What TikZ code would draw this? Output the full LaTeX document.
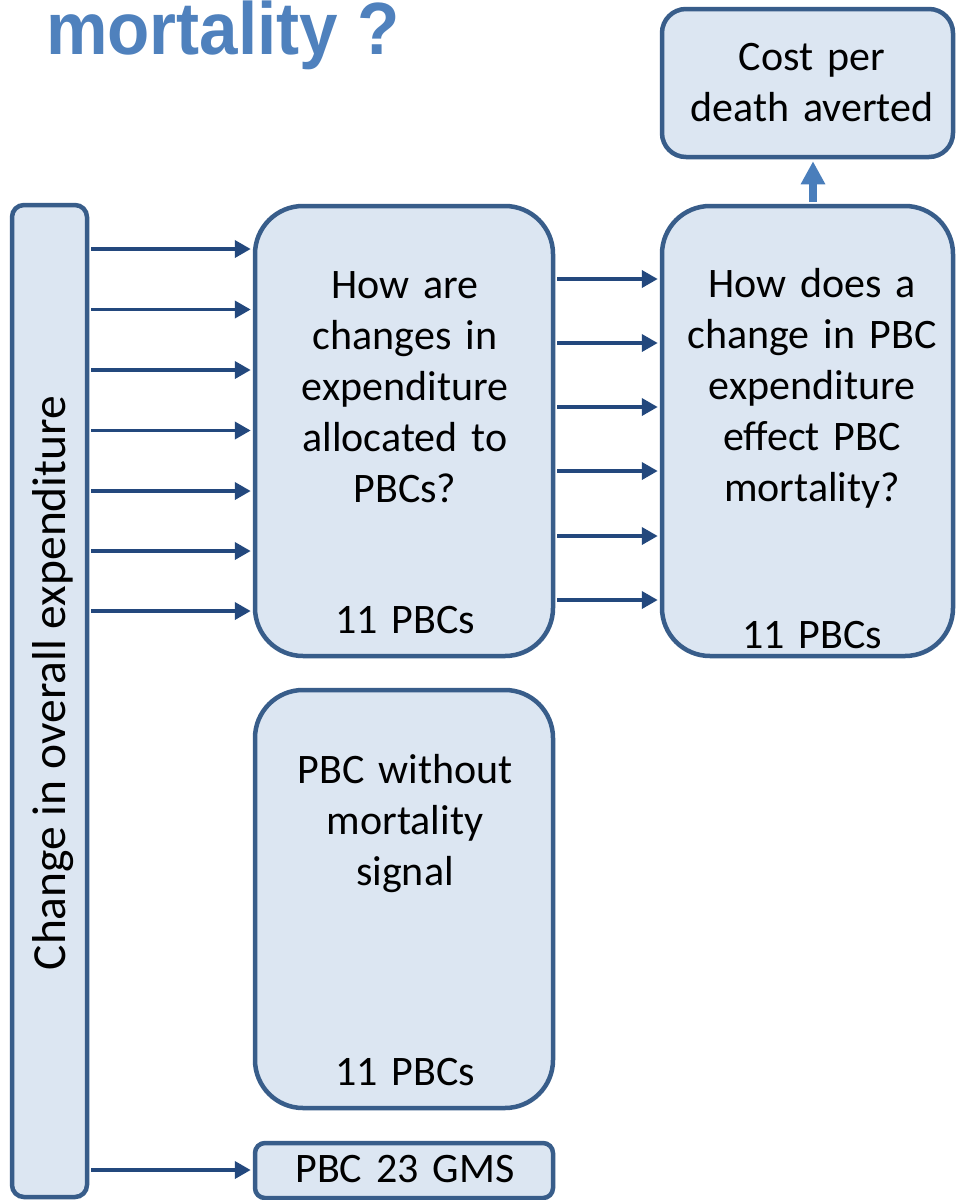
\documentclass[tikz,border=0pt]{standalone}
\usepackage{fontspec}
\setmainfont{Carlito}
\newfontfamily\titlefont{Liberation Sans}
\usetikzlibrary{arrows.meta}
\definecolor{boxline}{RGB}{56,93,138}
\definecolor{boxfill}{RGB}{220,230,242}
\definecolor{arrowcol}{RGB}{35,72,125}
\definecolor{upcol}{RGB}{74,126,187}
\definecolor{titlecol}{RGB}{79,129,189}
\begin{document}
\begin{tikzpicture}[x=1pt,y=-1pt,
  box/.style={draw=boxline, fill=boxfill, line width=4.5pt, inner sep=0pt, rectangle},
  lbl/.style={font=\fontsize{42}{51}\selectfont, text width=330pt, align=center, inner sep=0pt, anchor=base},
  conn/.style={draw=arrowcol, line width=3.8pt, shorten >=2pt, shorten <=2pt, -{Triangle[length=16pt,width=17pt]}},
  uparrow/.style={draw=upcol, line width=8pt, -{Triangle[length=23pt,width=23pt]}}
]
\useasboundingbox (0,0) rectangle (957,1200);
\clip (0,0) rectangle (957,1200);
\fill[white] (0,0) rectangle (957,1200);

% title (cut off at the top)
\node[anchor=base west, inner sep=0pt, text=titlecol, xscale=0.935, transform shape, font=\titlefont\bfseries\fontsize{74}{84}\selectfont] (title) at (46,54) {mortality ?};

% boxes
\node[box, rounded corners=12pt, minimum width=75pt, minimum height=992pt] (leftbox) at (49.5,701) {};
\node[box, rounded corners=48pt, minimum width=298pt, minimum height=450pt] (midbox) at (404,431) {};
\node[box, rounded corners=48pt, minimum width=291pt, minimum height=450pt] (rightbox) at (807.5,431) {};
\node[box, rounded corners=24pt, minimum width=291pt, minimum height=148pt] (costbox) at (807.5,83) {};
\node[box, rounded corners=48pt, minimum width=298pt, minimum height=418pt] (lowbox) at (404,899) {};
\node[box, rounded corners=10pt, minimum width=298pt, minimum height=55pt] (gmsbox) at (404,1170.5) {};

% texts
\node[inner sep=0pt, anchor=base, rotate=90, font=\fontsize{47.5}{57}\selectfont] (lefttext) at (65,683) {Change in overall expenditure};
\node[lbl] (midtext) at (405,298) {How are\\changes in\\expenditure\\allocated to\\PBCs?};
\node[lbl] (midcount) at (405,633) {11 PBCs};
\node[lbl] (righttext) at (812,297) {How does a\\change in PBC\\expenditure\\effect PBC\\mortality?};
\node[lbl] (rightcount) at (812,648) {11 PBCs};
\node[lbl] (costtext) at (812,70) {Cost per\\death averted};
\node[lbl] (lowtext) at (405,783) {PBC without\\mortality\\signal};
\node[lbl] (lowcount) at (405,1085) {11 PBCs};
\node[lbl] (gmstext) at (405,1182) {PBC 23 GMS};

% arrows from left box to middle box
\foreach \y [count=\i] in {249,309.5,370,430.5,491,551,611} {
  \coordinate (la\i) at (0,\y);
  \draw[conn] (leftbox.east |- la\i) -- (midbox.west |- la\i);
}
% arrow from left box to GMS box
\coordinate (lg) at (0,1170);
\draw[conn] (leftbox.east |- lg) -- (gmsbox.west |- lg);

% arrows from middle box to right box
\foreach \y [count=\i] in {279,343,407,471,536,600} {
  \coordinate (ra\i) at (0,\y);
  \draw[conn] (midbox.east |- ra\i) -- (rightbox.west |- ra\i);
}

% up arrow
\coordinate (ux) at (813,0);
\draw[uparrow] ([yshift=2pt]rightbox.north -| ux) -- ([yshift=-2pt]costbox.south -| ux);
\end{tikzpicture}
\end{document}
